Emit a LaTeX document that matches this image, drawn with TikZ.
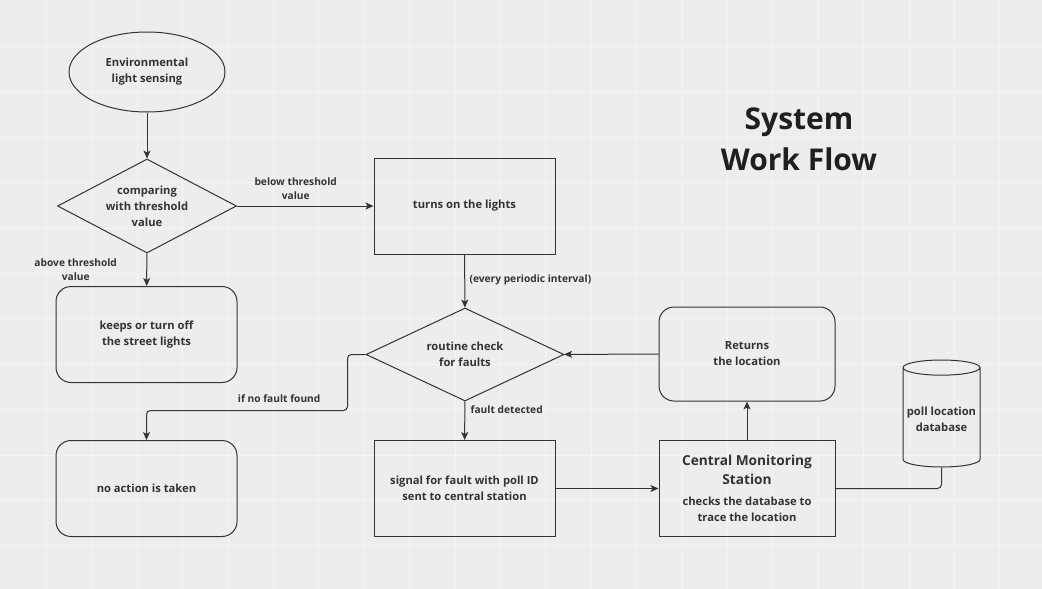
\documentclass[tikz,border=0pt]{standalone}
\usepackage{fontspec}
\setmainfont{Open Sans}
\usetikzlibrary{shapes.geometric}
\usetikzlibrary{arrows.meta}

\definecolor{ink}{HTML}{333333}
\definecolor{paper}{HTML}{EDEDED}
\definecolor{gridline}{HTML}{F4F4F4}

\tikzset{
    box/.style={draw=ink, line width=1pt, minimum width=181, minimum height=96, align=center, text=ink, font=\bfseries\fontsize{11.2}{16}\selectfont},
    roundbox/.style={box, rounded corners=15},
    decision/.style={diamond, draw=ink, line width=1pt, aspect=1.9, inner sep=0pt, minimum width=179, minimum height=94, align=center, text=ink, font=\bfseries\fontsize{11.2}{16}\selectfont},
    flowlabel/.style={align=center, text=ink, font=\bfseries\fontsize{10.2}{14}\selectfont},
    arr/.style={draw=ink, line width=1pt, -{Stealth[length=8pt,width=7pt,inset=2pt]}}
}

\begin{document}
\begin{tikzpicture}[x=1pt,y=-1pt]
    \useasboundingbox (0,0) rectangle (1042,589);
    \fill[paper] (0,0) rectangle (1042,589);
    % background grid
    \foreach \gx in {1,...,22}
        \draw[gridline, line width=1pt] (1+45.4*\gx,0) -- (1+45.4*\gx,589);
    \foreach \gy in {1,...,12}
        \draw[gridline, line width=1pt] (0,1+45.4*\gy) -- (1042,1+45.4*\gy);

    % shapes
    \node[ellipse, draw=ink, line width=1pt, minimum width=156, minimum height=80, inner sep=0pt, align=center, text=ink, font=\bfseries\fontsize{11.2}{16}\selectfont] (sense) at (147,72) {Environmental\\light sensing};
    \node[decision] (compare) at (147,206) {comparing\\with threshold\\value};
    \node[box] (lightson) at (464.5,206) {turns on the lights};
    \node[roundbox] (keep) at (146.5,334.5) {keeps or turn off\\the street lights};
    \node[decision, minimum width=198, minimum height=93] (check) at (465,354.5) {routine check\\for faults};
    \node[roundbox, minimum width=176, minimum height=94] (returns) at (747,354) {Returns\\the location};
    \node[roundbox] (noaction) at (146.5,488.5) {no action is taken};
    \node[box] (signal) at (464.5,488.5) {signal for fault with poll ID\\sent to central station};
    \node[box, minimum width=176] (central) at (747,488.5) {\fontsize{13.7}{19}\selectfont Central Monitoring\\[3pt]\fontsize{13.7}{19}\selectfont Station\\[5pt]\fontsize{11.2}{16}\selectfont checks the database to\\trace the location};
    \node[cylinder, shape border rotate=90, draw=ink, line width=1pt, minimum height=107, minimum width=77, aspect=0.2, anchor=shape center, align=center, text=ink, font=\bfseries\fontsize{11.2}{16}\selectfont] (db) at (941.5,413.5) {poll location\\database};
    \node[align=center, text=black!88, font=\bfseries\fontsize{30}{41}\selectfont] (title) at (799,139) {System\\Work Flow};

    % connectors
    \draw[arr] (sense) -- (compare);
    \draw[arr] (compare) -- node[flowlabel, above=3pt, pos=0.43] {below threshold\\value} (lightson);
    \draw[arr] (compare) -- node[flowlabel, left=26pt] {above threshold\\value} (keep);
    \draw[arr] (lightson) -- node[flowlabel, right=1pt, pos=0.48] {(every periodic interval)} (check);
    \draw[arr] (returns) -- (check);
    \draw[arr, rounded corners=4] (check.west) -- ++(-18,0) -- ++(0,56) -| node[flowlabel, above=4pt, pos=0.17] {if no fault found} (noaction.north);
    \draw[arr] (check) -- node[flowlabel, right=2pt, pos=0.22] {fault detected} (signal);
    \draw[arr] (signal) -- (central);
    \draw[arr] (central) -- (returns);
    \draw[draw=ink, line width=1pt, rounded corners=4] (central.east) -| (db.bottom);
\end{tikzpicture}
\end{document}
